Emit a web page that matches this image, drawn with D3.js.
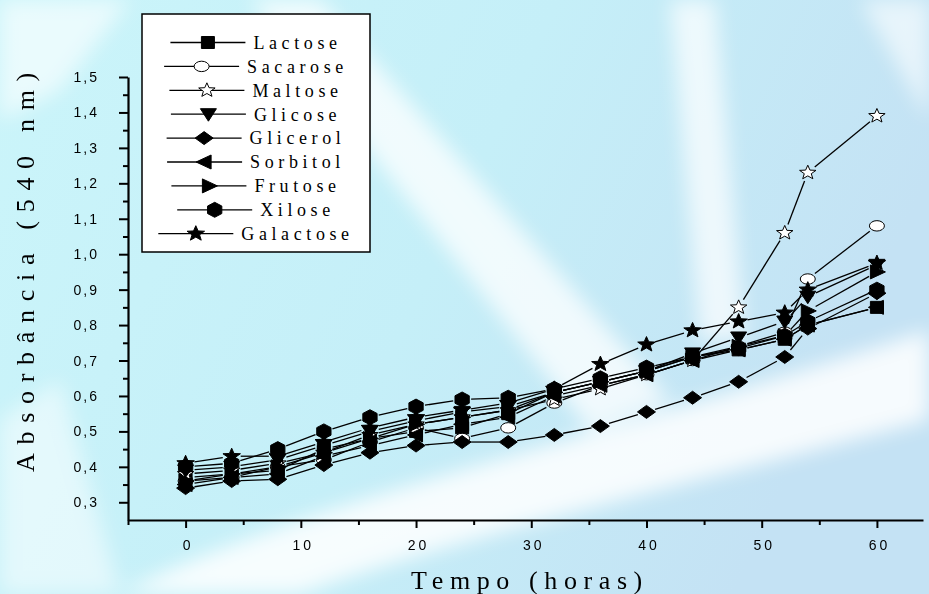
<!DOCTYPE html>
<html>
<head>
<meta charset="utf-8">
<script src="https://cdn.jsdelivr.net/npm/d3@7"></script>
<style>
  body { margin: 0; padding: 0; overflow: hidden; }
  svg { display: block; }
</style>
</head>
<body>
<div id="chart"></div>
<script>
// tempo (horas)
var tempo = [0, 4, 8, 12, 16, 20, 24, 28, 32, 36, 40, 44, 48, 52, 54, 60];

var lactose   = [0.37, 0.38, 0.39, 0.45, 0.48, 0.50, 0.51, 0.55, 0.61, 0.64, 0.67, 0.71, 0.73, 0.76, 0.80, 0.85];
var sacarose  = [0.36, 0.37, 0.40, 0.42, 0.47, 0.51, 0.48, 0.51, 0.58, 0.63, 0.66, 0.70, 0.74, 0.78, 0.93, 1.08];
var maltose   = [0.38, 0.39, 0.41, 0.44, 0.49, 0.52, 0.54, 0.56, 0.59, 0.62, 0.66, 0.70, 0.85, 1.06, 1.23, 1.39];
var glicose   = [0.39, 0.40, 0.42, 0.46, 0.50, 0.53, 0.555, 0.57, 0.61, 0.64, 0.67, 0.72, 0.765, 0.81, 0.88, 0.97];
var glicerol  = [0.34, 0.36, 0.365, 0.405, 0.44, 0.46, 0.47, 0.47, 0.49, 0.515, 0.555, 0.595, 0.64, 0.71, 0.79, 0.89];
var sorbitol  = [0.35, 0.37, 0.38, 0.43, 0.46, 0.49, 0.52, 0.54, 0.60, 0.63, 0.66, 0.70, 0.73, 0.76, 0.80, 0.85];
var frutose   = [0.36, 0.38, 0.40, 0.44, 0.48, 0.52, 0.54, 0.56, 0.61, 0.64, 0.67, 0.71, 0.74, 0.77, 0.84, 0.95];
var xilose    = [0.40, 0.41, 0.45, 0.50, 0.54, 0.57, 0.59, 0.595, 0.62, 0.65, 0.68, 0.71, 0.735, 0.77, 0.81, 0.90];
var galactose = [0.41, 0.43, 0.43, 0.47, 0.51, 0.54, 0.56, 0.58, 0.62, 0.69, 0.745, 0.785, 0.81, 0.835, 0.90, 0.975];

var nomes = ["Lactose", "Sacarose", "Maltose", "Glicose", "Glicerol", "Sorbitol", "Frutose", "Xilose", "Galactose"];
var valores = [lactose, sacarose, maltose, glicose, glicerol, sorbitol, frutose, xilose, galactose];
var simbolos = ["square", "circle", "openstar", "down", "diamond", "left", "right", "hexagon", "star"];

var xTicks = [0, 10, 20, 30, 40, 50, 60];
var yTicks = [0.3, 0.4, 0.5, 0.6, 0.7, 0.8, 0.9, 1.0, 1.1, 1.2, 1.3, 1.4, 1.5];

var width = 929, height = 594;

var svg = d3.select("#chart").append("svg")
    .attr("width", width)
    .attr("height", height);

// ---- background (light cyan slide with white light beams)
var defs = svg.append("defs");
var grad = defs.append("linearGradient").attr("id", "bg")
    .attr("x1", "0").attr("y1", "0").attr("x2", "1").attr("y2", "0.3");
grad.append("stop").attr("offset", "0%").attr("stop-color", "#cbf5fa");
grad.append("stop").attr("offset", "55%").attr("stop-color", "#c5eff8");
grad.append("stop").attr("offset", "100%").attr("stop-color", "#c4e2f4");
defs.append("filter").attr("id", "blur")
    .attr("x", "-20%").attr("y", "-20%").attr("width", "140%").attr("height", "140%")
    .append("feGaussianBlur").attr("stdDeviation", 10);

svg.append("rect").attr("width", width).attr("height", height).attr("fill", "url(#bg)");

var beams = svg.append("g").attr("filter", "url(#blur)").attr("fill", "#ffffff");
beams.append("path").attr("opacity", 0.75)
    .attr("d", "M250,0 L320,0 L670,400 L590,430 Z");
beams.append("path").attr("opacity", 0.7)
    .attr("d", "M670,0 L715,0 L745,340 L700,340 Z");
beams.append("path").attr("opacity", 0.85)
    .attr("d", "M120,594 C300,500 600,440 929,330 L929,420 C700,480 450,540 300,594 Z");
beams.append("path").attr("opacity", 0.6)
    .attr("d", "M0,0 L130,0 L60,90 L0,120 Z");
beams.append("path").attr("opacity", 0.5)
    .attr("d", "M0,420 L60,380 L120,594 L0,594 Z");
beams.append("path").attr("opacity", 0.6)
    .attr("d", "M860,0 L929,0 L929,120 Z");

// ---- scales
var x = d3.scaleLinear().domain([-5, 64]).range([128, 923]);
var y = d3.scaleLinear().domain([0.25, 1.5]).range([520, 77]);

var virgula = function (d) { return d3.format(".1f")(d).replace(".", ","); };

// minor ticks
svg.append("g")
    .attr("transform", "translate(128,0)")
    .call(d3.axisLeft(y).tickValues(d3.range(0.35, 1.5, 0.1)).tickSize(5).tickSizeOuter(0).tickFormat(""))
    .call(function (g) { g.select(".domain").remove(); })
    .selectAll("line").attr("stroke-width", 2);
svg.append("g")
    .attr("transform", "translate(0,520)")
    .call(d3.axisBottom(x).tickValues([-5, 5, 15, 25, 35, 45, 55]).tickSize(5).tickSizeOuter(0).tickFormat(""))
    .call(function (g) { g.select(".domain").remove(); })
    .selectAll("line").attr("stroke-width", 2);

// major axes
var yAxis = svg.append("g")
    .attr("transform", "translate(128,0)")
    .call(d3.axisLeft(y).tickValues(yTicks).tickSize(9).tickSizeOuter(0).tickPadding(20).tickFormat(virgula));
var xAxis = svg.append("g")
    .attr("transform", "translate(0,520)")
    .call(d3.axisBottom(x).tickValues(xTicks).tickSize(8).tickSizeOuter(0).tickPadding(12).tickFormat(d3.format("d")));

[yAxis, xAxis].forEach(function (g) {
    g.select(".domain").attr("stroke-width", 2.2);
    g.selectAll(".tick line").attr("stroke-width", 2);
    g.selectAll("text")
        .attr("fill", "#000")
        .style("font-family", "'Liberation Sans', Arial, sans-serif")
        .style("font-size", "14px")
        .style("letter-spacing", "2px");
});
xAxis.selectAll("text").style("letter-spacing", "3px").attr("dx", "2px");

// axis titles
svg.append("text")
    .attr("x", 530).attr("y", 589)
    .attr("text-anchor", "middle")
    .style("font-family", "'Liberation Serif', 'Times New Roman', serif")
    .style("font-size", "26px")
    .style("letter-spacing", "6.6px")
    .text("Tempo (horas)");

svg.append("text")
    .attr("transform", "translate(34,268) rotate(-90)")
    .attr("text-anchor", "middle")
    .style("font-family", "'Liberation Serif', 'Times New Roman', serif")
    .style("font-size", "26px")
    .style("letter-spacing", "8.7px")
    .text("Absorbância (540 nm)");

// ---- markers
function starPath(ro, ri) {
    var p = [];
    for (var i = 0; i < 10; i++) {
        var r = i % 2 ? ri : ro;
        var a = -Math.PI / 2 + i * Math.PI / 5;
        p.push([1.15 * r * Math.cos(a), r * Math.sin(a)]);
    }
    return "M" + p.map(function (q) { return q[0].toFixed(2) + "," + q[1].toFixed(2); }).join("L") + "Z";
}
function hexPath(r) {
    var p = [];
    for (var i = 0; i < 6; i++) {
        var a = -Math.PI / 2 + i * Math.PI / 3;
        p.push([1.1 * r * Math.cos(a), r * Math.sin(a)]);
    }
    return "M" + p.map(function (q) { return q[0].toFixed(2) + "," + q[1].toFixed(2); }).join("L") + "Z";
}
var formas = {
    square: "M-6.5,-6 H6.5 V6 H-6.5 Z",
    circle: "M-7.5,0 A7.5,5.2 0 1,0 7.5,0 A7.5,5.2 0 1,0 -7.5,0 Z",
    openstar: starPath(7.5, 3.2),
    down: "M-8,-5.5 L8,-5.5 L0,7 Z",
    diamond: "M-9,0 L0,-6.5 L9,0 L0,6.5 Z",
    left: "M-8.5,0 L6.5,-7 L6.5,7 Z",
    right: "M8.5,0 L-6.5,-7 L-6.5,7 Z",
    hexagon: hexPath(7.5),
    star: starPath(8, 3.4)
};
function preenche(s) { return (s === "circle" || s === "openstar") ? "#ffffff" : "#000000"; }

// ---- series lines (Origin style: gaps around the symbols)
var gap = 9;
var plot = svg.append("g");
valores.forEach(function (serie, k) {
    var pts = tempo.map(function (t, i) { return [x(t), y(serie[i])]; });
    var segs = d3.pairs(pts).map(function (p) {
        var dx = p[1][0] - p[0][0], dy = p[1][1] - p[0][1];
        var len = Math.sqrt(dx * dx + dy * dy);
        if (len <= 2 * gap + 1) return null;
        var ux = dx / len, uy = dy / len;
        return [p[0][0] + ux * gap, p[0][1] + uy * gap, p[1][0] - ux * gap, p[1][1] - uy * gap];
    }).filter(function (s) { return s; });
    plot.append("g").selectAll("line")
        .data(segs)
        .enter()
        .append("line")
        .attr("x1", function (s) { return s[0]; })
        .attr("y1", function (s) { return s[1]; })
        .attr("x2", function (s) { return s[2]; })
        .attr("y2", function (s) { return s[3]; })
        .attr("stroke", "#000")
        .attr("stroke-width", 1.3);
});
valores.forEach(function (serie, k) {
    plot.append("g").selectAll("path")
        .data(tempo)
        .enter()
        .append("path")
        .attr("d", formas[simbolos[k]])
        .attr("transform", function (t, i) { return "translate(" + x(t) + "," + y(serie[i]) + ")"; })
        .attr("fill", preenche(simbolos[k]))
        .attr("stroke", "#000")
        .attr("stroke-width", 1);
});

// ---- legend
var legend = svg.append("g");
legend.append("rect")
    .attr("x", 142).attr("y", 14)
    .attr("width", 228).attr("height", 238)
    .attr("fill", "#ffffff")
    .attr("stroke", "#000")
    .attr("stroke-width", 1.5);

nomes.forEach(function (nome, k) {
    var cy = 42.5 + k * 23.9;
    var item = legend.append("g");
    var txt = item.append("text")
        .attr("y", cy)
        .attr("dy", "0.35em")
        .style("font-family", "'Liberation Serif', 'Times New Roman', serif")
        .style("font-size", "18px")
        .style("letter-spacing", "4.6px")
        .text(nome);
    var w = txt.node().getComputedTextLength();
    var total = 75 + 8 + w;
    var x0 = 256 - total / 2;
    txt.attr("x", x0 + 83);
    item.append("line")
        .attr("x1", x0).attr("x2", x0 + 75)
        .attr("y1", cy).attr("y2", cy)
        .attr("stroke", "#000").attr("stroke-width", 1.3);
    item.append("path")
        .attr("d", formas[simbolos[k]])
        .attr("transform", "translate(" + (x0 + 37.5) + "," + cy + ")")
        .attr("fill", preenche(simbolos[k]))
        .attr("stroke", "#000")
        .attr("stroke-width", 1);
});
</script>
</body>
</html>
